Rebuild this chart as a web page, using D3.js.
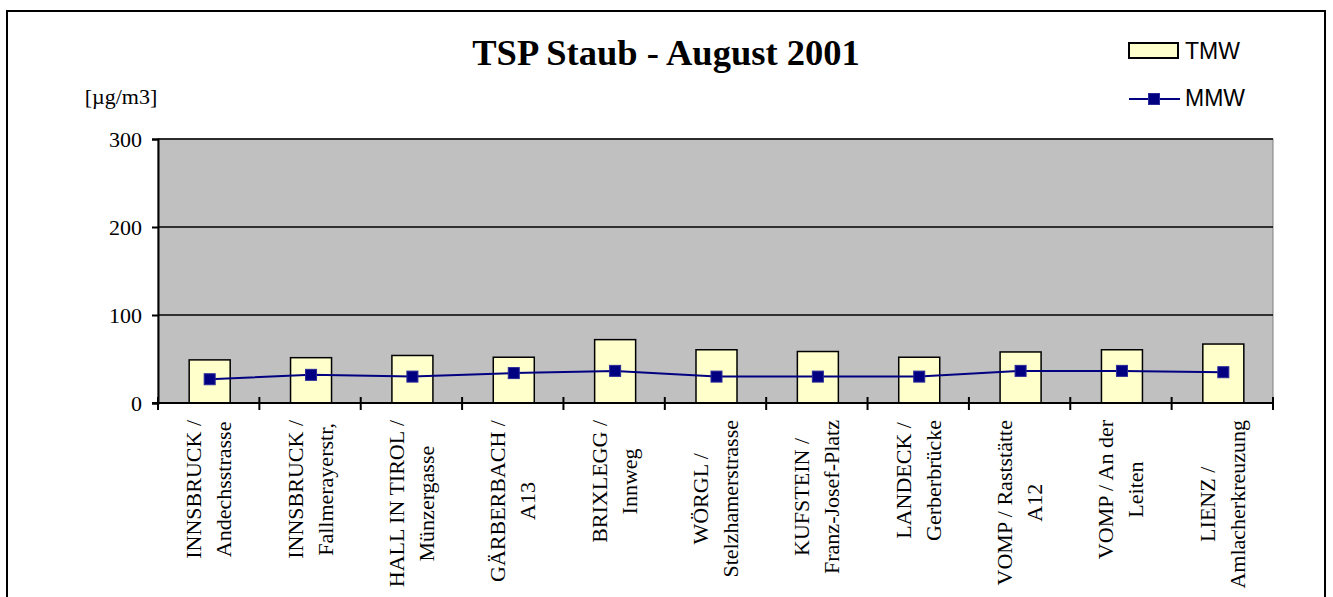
<!DOCTYPE html>
<html>
<head>
<meta charset="utf-8">
<script src="https://cdn.jsdelivr.net/npm/d3@7"></script>
<style>
  html, body { margin: 0; padding: 0; background: #fff; }
  svg { display: block; }
</style>
</head>
<body>
<svg id="chart" width="1333" height="597"></svg>
<script>
// ---- data ----
const categories = [
  ["INNSBRUCK /", "Andechsstrasse"],
  ["INNSBRUCK /", "Fallmerayerstr,"],
  ["HALL IN TIROL /", "Münzergasse"],
  ["GÄRBERBACH /", "A13"],
  ["BRIXLEGG /", "Innweg"],
  ["WÖRGL /", "Stelzhamerstrasse"],
  ["KUFSTEIN /", "Franz-Josef-Platz"],
  ["LANDECK /", "Gerberbrücke"],
  ["VOMP / Raststätte", "A12"],
  ["VOMP / An der", "Leiten"],
  ["LIENZ /", "Amlacherkreuzung"]
];
const tmwValues = [49, 51.5, 54, 52, 72, 60.5, 58.5, 52, 58, 60.5, 67];
const mmwValues = [27, 32, 30, 34, 36.5, 30, 30, 30, 36.5, 36.5, 35];
const yTicks = [0, 100, 200, 300];
const titleText = "TSP Staub - August 2001";
const unitText = "[µg/m3]";
const seriesNames = ["TMW", "MMW"];

// ---- layout ----
const svg = d3.select("#chart");
const plot = { left: 158, right: 1273, top: 139, bottom: 403 };
const serif = "'Liberation Serif', 'Times New Roman', serif";
const sans = "'Liberation Sans', Arial, sans-serif";

// outer border
svg.append("rect").attr("x", 7).attr("y", 11).attr("width", 1318).attr("height", 600)
  .attr("fill", "none").attr("stroke", "#000").attr("stroke-width", 2);

const x = d3.scaleBand().domain(d3.range(categories.length))
  .range([plot.left, plot.right]).paddingInner(0).paddingOuter(0);
const y = d3.scaleLinear().domain([0, 300]).range([plot.bottom, plot.top]);

// plot area
svg.append("rect").attr("x", plot.left).attr("y", plot.top)
  .attr("width", plot.right - plot.left).attr("height", plot.bottom - plot.top)
  .attr("fill", "#C0C0C0").attr("stroke", "#808080").attr("stroke-width", 1);

// gridlines
svg.append("g").selectAll("line").data(yTicks.filter(d => d > 0)).join("line")
  .attr("x1", plot.left).attr("x2", plot.right)
  .attr("y1", d => y(d)).attr("y2", d => y(d))
  .attr("stroke", "#000").attr("stroke-width", 1.5);

// bars
const bw = 41;
svg.append("g").selectAll("rect").data(tmwValues).join("rect")
  .attr("x", (d, i) => x(i) + x.bandwidth() / 2 - bw / 2 + 1)
  .attr("y", d => y(d))
  .attr("width", bw)
  .attr("height", d => y(0) - y(d))
  .attr("fill", "#FFFFCC").attr("stroke", "#000").attr("stroke-width", 1.5);

// y axis
const yAxis = d3.axisLeft(y).tickValues(yTicks).tickSize(6).tickPadding(10).tickFormat(d3.format("d"));
const gy = svg.append("g").attr("transform", `translate(${plot.left},0)`).call(yAxis);
gy.select(".domain").attr("stroke", "#000").attr("stroke-width", 2);
gy.selectAll(".tick line").attr("stroke", "#000").attr("stroke-width", 2);
gy.selectAll(".tick text").attr("font-family", serif).attr("font-size", 22).attr("fill", "#000");

// x axis
const xAxis = d3.axisBottom(x).tickValues([]).tickSizeOuter(0);
const gx = svg.append("g").attr("transform", `translate(0,${plot.bottom})`).call(xAxis);
gx.select(".domain").attr("stroke", "#000").attr("stroke-width", 2)
  .attr("d", `M${plot.left - 6},0H${plot.right}`);
const tickPos = d3.range(categories.length + 1).map(i => plot.left + i * x.bandwidth());
gx.selectAll("line.xt").data(tickPos).join("line").attr("class", "xt")
  .attr("x1", d => d).attr("x2", d => d).attr("y1", -6).attr("y2", 7)
  .attr("stroke", "#000").attr("stroke-width", 2);

// x labels
const lblTop = 420;
categories.forEach((lines, i) => {
  const cx = x(i) + x.bandwidth() / 2;
  const g = svg.append("g").attr("transform", `translate(${cx},${lblTop}) rotate(-90)`);
  const texts = lines.map((t, k) => g.append("text")
    .attr("font-family", serif).attr("font-size", 22).attr("fill", "#000")
    .attr("text-anchor", "middle").attr("dominant-baseline", "central")
    .attr("y", (k - (lines.length - 1) / 2) * 30)
    .text(t));
  const L = d3.max(texts, t => t.node().getComputedTextLength());
  texts.forEach(t => t.attr("x", -L / 2));
});

// MMW line
const line = d3.line().x((d, i) => x(i) + x.bandwidth() / 2 + 1).y(d => y(d));
svg.append("path").datum(mmwValues).attr("d", line)
  .attr("fill", "none").attr("stroke", "#000080").attr("stroke-width", 2);
const ms = 11;
svg.append("g").selectAll("rect").data(mmwValues).join("rect")
  .attr("x", (d, i) => x(i) + x.bandwidth() / 2 + 1 - ms / 2)
  .attr("y", d => y(d) - ms / 2)
  .attr("width", ms).attr("height", ms)
  .attr("fill", "#000080").attr("stroke", "#2a2a9a").attr("stroke-width", 1);

// title
svg.append("text").attr("x", 666).attr("y", 65).attr("text-anchor", "middle")
  .attr("font-family", serif).attr("font-weight", "bold").attr("font-size", 36.5)
  .attr("fill", "#000").text(titleText);

// unit
svg.append("text").attr("x", 121).attr("y", 104).attr("text-anchor", "middle")
  .attr("font-family", serif).attr("font-size", 22).attr("fill", "#000").text(unitText);

// legend
svg.append("rect").attr("x", 1129).attr("y", 43).attr("width", 49).attr("height", 15)
  .attr("fill", "#FFFFCC").attr("stroke", "#000").attr("stroke-width", 2);
svg.append("text").attr("x", 1185).attr("y", 58.5)
  .attr("font-family", sans).attr("font-size", 23).attr("fill", "#000").text(seriesNames[0]);
svg.append("line").attr("x1", 1129).attr("x2", 1180).attr("y1", 99).attr("y2", 99)
  .attr("stroke", "#000080").attr("stroke-width", 2);
svg.append("rect").attr("x", 1154 - ms / 2).attr("y", 99 - ms / 2).attr("width", ms).attr("height", ms)
  .attr("fill", "#000080").attr("stroke", "#2a2a9a").attr("stroke-width", 1);
svg.append("text").attr("x", 1185).attr("y", 105.5)
  .attr("font-family", sans).attr("font-size", 23).attr("fill", "#000").text(seriesNames[1]);
</script>
</body>
</html>
